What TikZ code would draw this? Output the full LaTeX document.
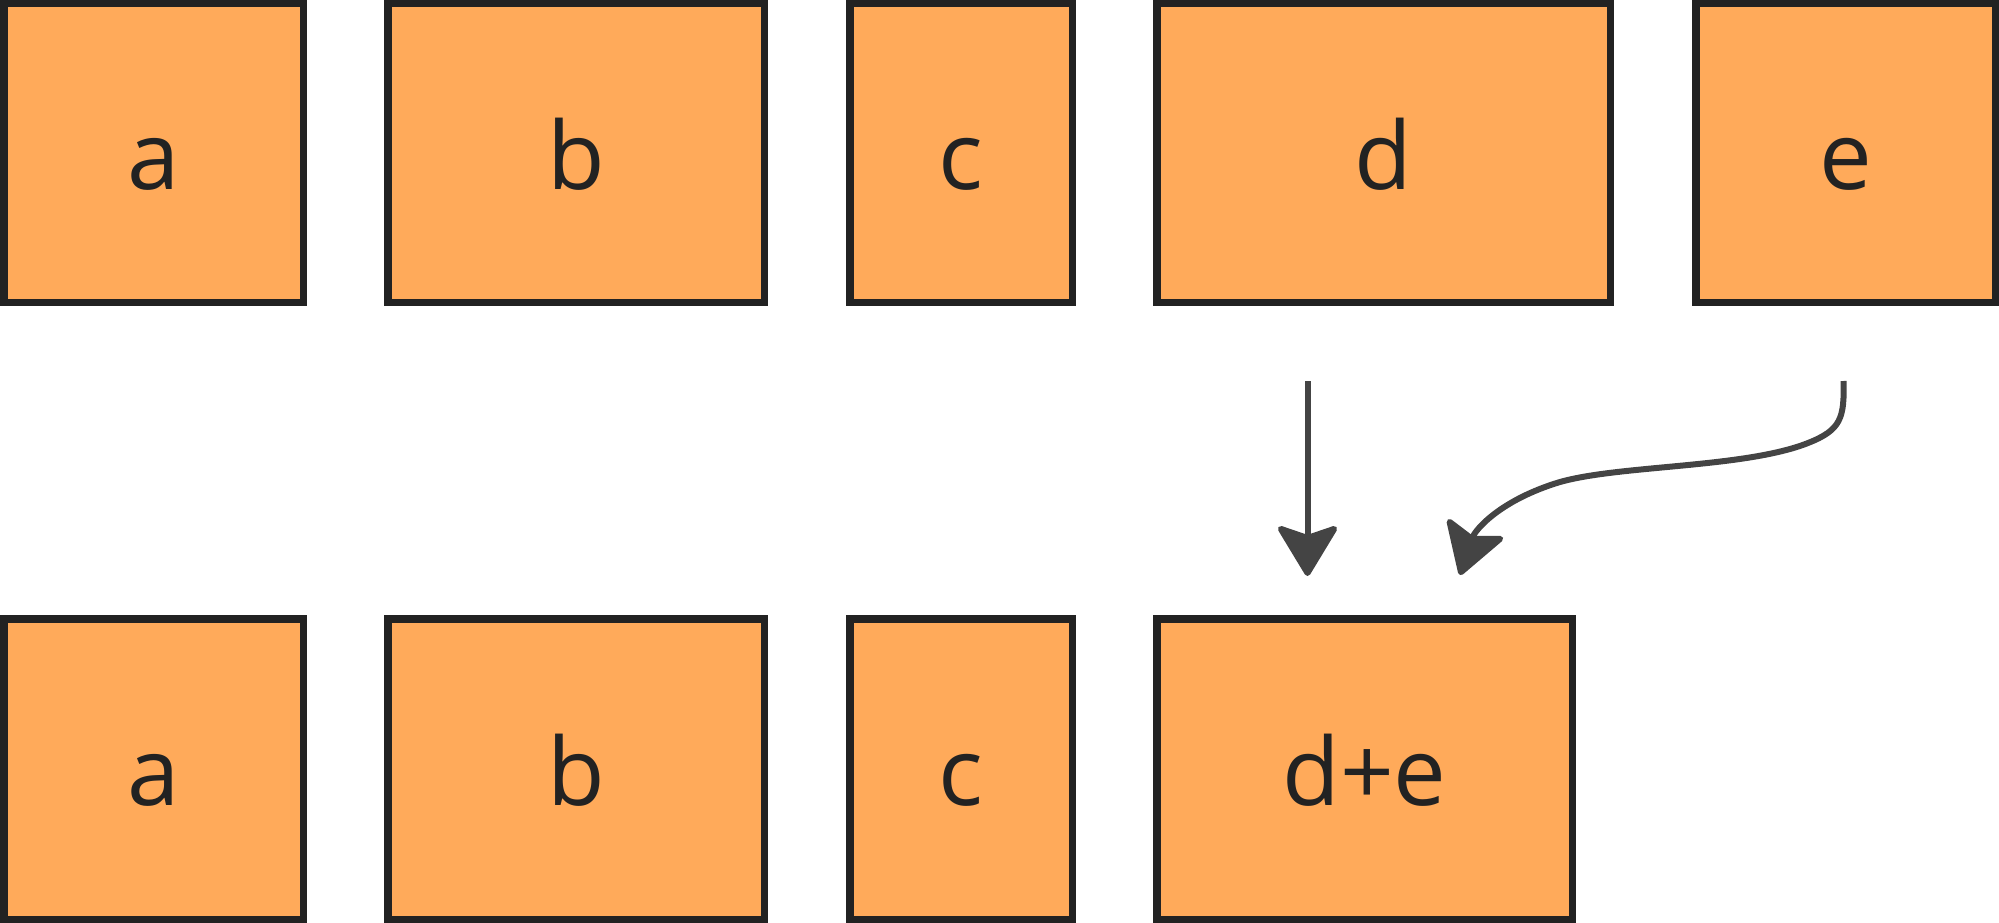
\documentclass[tikz,border=0pt]{standalone}
\usepackage{fontspec}
\setmainfont{Open Sans}
\usetikzlibrary{arrows.meta}
\definecolor{boxfill}{HTML}{FFAA5A}
\definecolor{boxline}{HTML}{222222}
\definecolor{arrowc}{HTML}{444444}
\begin{document}
\begin{tikzpicture}[x=1pt,y=-1pt,
  cell/.style={draw=boxline, fill=boxfill, line width=7.5pt, inner sep=0pt, outer sep=0pt,
    text=boxline, font=\fontsize{94}{110}\selectfont, text height=72pt, text depth=0pt,
    minimum height=298.5pt},
  cellb/.style={cell, minimum height=300.5pt},
  conn/.style={draw=arrowc, line width=6pt, line cap=butt,
    -{Stealth[length=55pt,width=66pt,inset=11pt,round]}}]
\useasboundingbox (0,0) rectangle (1999,923);
% top row
\node[cell, minimum width=299.5pt] (a1) at (153.5,153) {a};
\node[cell, minimum width=376.5pt] (b1) at (576,153) {b};
\node[cell, minimum width=222.5pt] (c1) at (961,153) {c};
\node[cell, minimum width=453.5pt] (d1) at (1383.5,153) {d};
\node[cell, minimum width=299.5pt] (e1) at (1845.5,153) {e};
% bottom row
\node[cellb, minimum width=299.5pt] (a2) at (153.5,769) {a};
\node[cellb, minimum width=376.5pt] (b2) at (576,769) {b};
\node[cellb, minimum width=222.5pt] (c2) at (961,769) {c};
\node[cellb, minimum width=415.5pt] (de) at (1364.5,769) {d+e};
% connector ends
\coordinate (ds) at ([xshift=-76pt,yshift=-78.75pt]d1.south);
\coordinate (dt) at ([xshift=-57pt,yshift=42.75pt]de.north);
\coordinate (es) at ([xshift=-2pt,yshift=-78.75pt]e1.south);
\coordinate (et) at ([xshift=95.5pt,yshift=43.75pt]de.north);
\draw[conn] (ds) -- (dt);
\draw[conn] (es) .. controls (1844.5,418) and (1841,430) .. (1808,443)
  .. controls (1745,468) and (1620,465) .. (1560,482)
  .. controls (1500,500) and (1475,530) .. (et);
\end{tikzpicture}
\end{document}
